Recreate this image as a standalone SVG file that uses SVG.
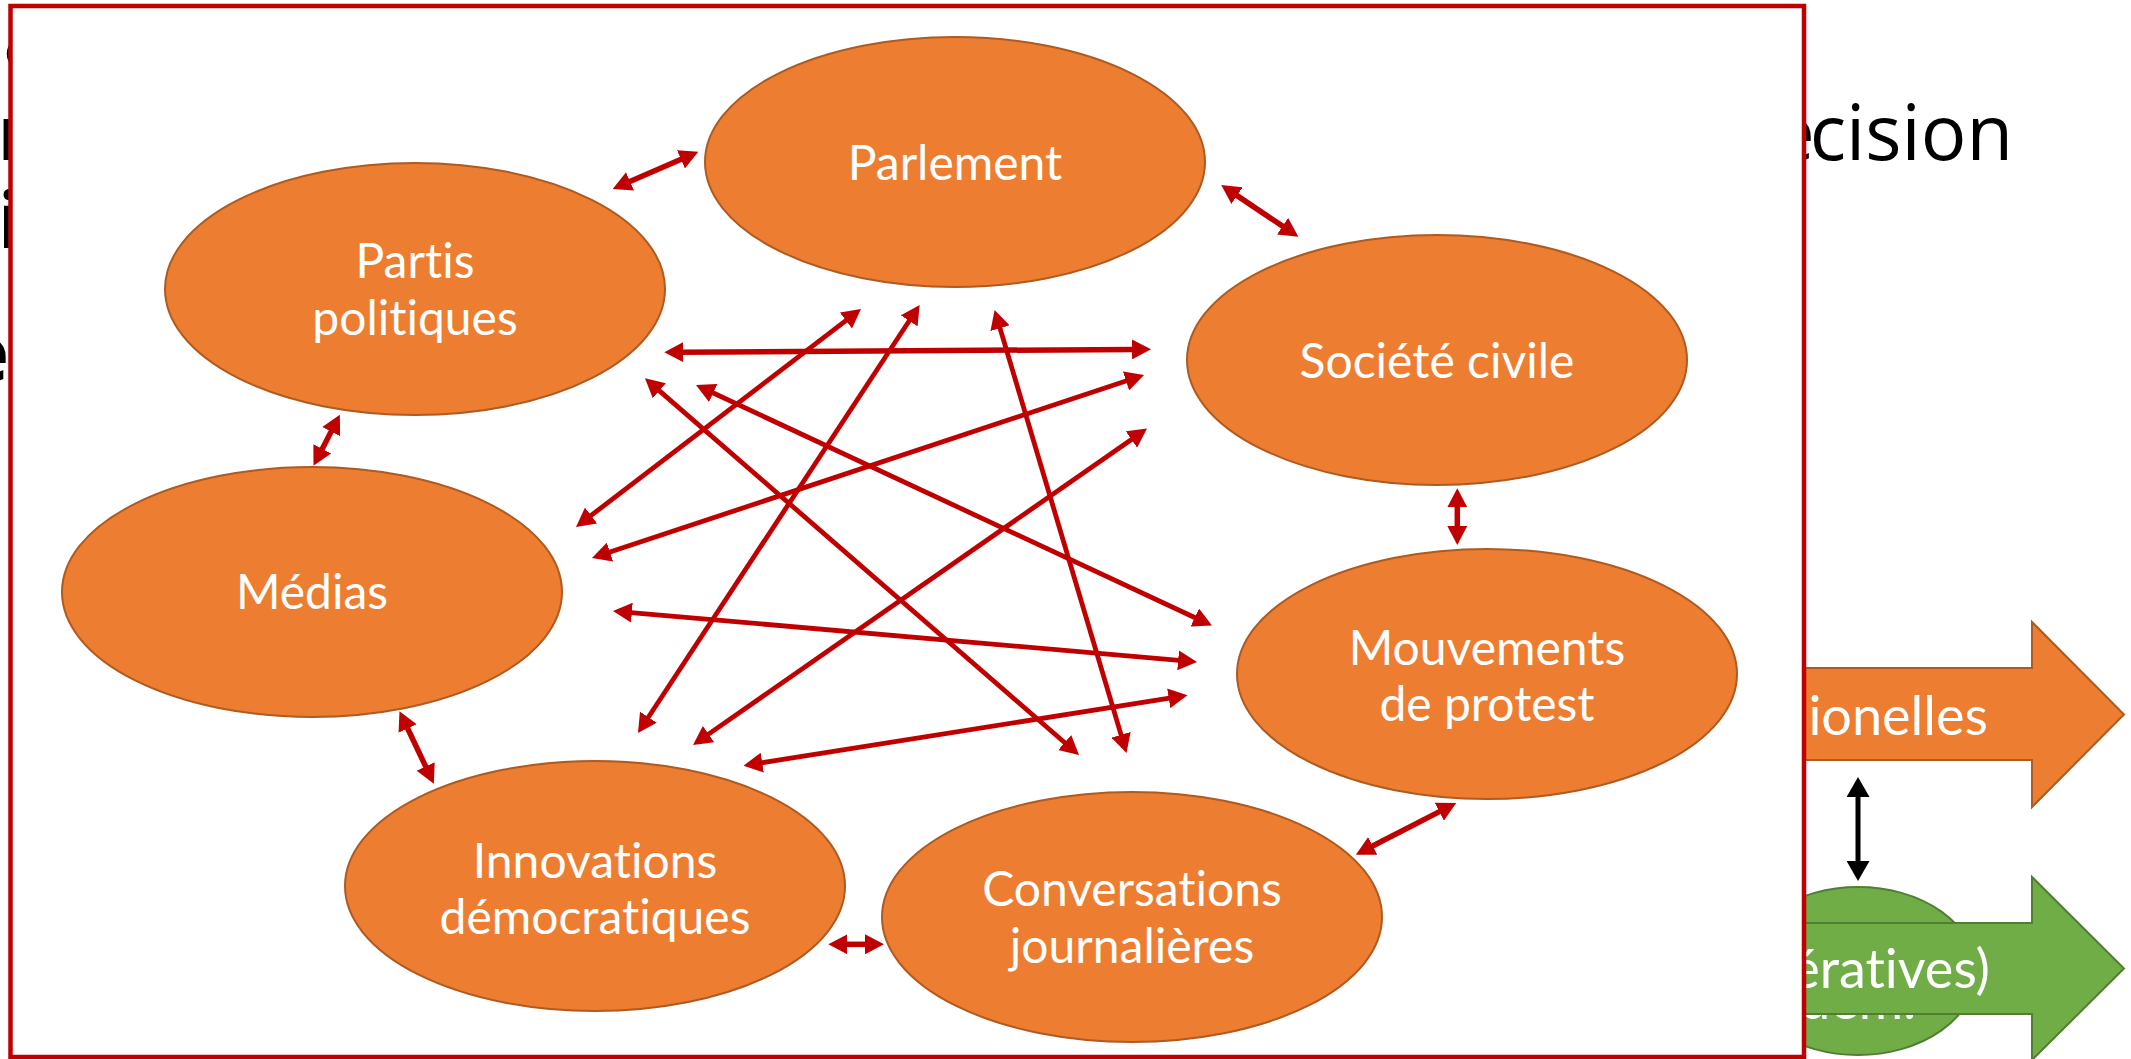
<svg xmlns="http://www.w3.org/2000/svg" width="2131" height="1059" viewBox="0 0 2131 1059">
<style>
.bg{font-family:"Open Sans","Noto Sans",sans-serif;fill:#000}
.node ellipse{fill:#ED7D31;stroke:#AE5A21;stroke-width:2}
.lbl{font-family:Lato,"Liberation Sans",sans-serif;font-size:48px;fill:#fff;text-anchor:middle;font-variant-ligatures:none;font-feature-settings:"liga" 0,"clig" 0}
.wl{font-family:Lato,"Liberation Sans",sans-serif;font-size:54px;fill:#fff;font-variant-ligatures:none;font-feature-settings:"liga" 0}
.c{stroke:#C00000;fill:none;marker-start:url(#ah);marker-end:url(#ah)}
.s{stroke-width:5.5}
.l{stroke-width:4.8}
</style>
<defs>
<marker id="ah" viewBox="0 0 19 20" markerWidth="19" markerHeight="20" refX="4" refY="10" orient="auto-start-reverse" markerUnits="userSpaceOnUse"><path d="M0,0 L19,10 L0,20 z" fill="#C00000"/></marker>
<marker id="bh" viewBox="0 0 20 23" markerWidth="20" markerHeight="23" refX="2" refY="11.5" orient="auto-start-reverse" markerUnits="userSpaceOnUse"><path d="M0,0 L20,11.5 L0,23 z" fill="#000"/></marker>
</defs>
<rect width="2131" height="1059" fill="#fff"/>
<g id="background">
<text class="bg" x="4" y="67" font-size="50">é</text>
<text class="bg" x="-3" y="160" font-size="77">r</text>
<text class="bg" x="-2" y="248" font-size="77" font-weight="bold">i</text>
<text class="bg" x="9" y="381" font-size="77" font-weight="bold" text-anchor="end">e</text>
<text class="bg" x="2013" y="160" font-size="76" text-anchor="end"><tspan>é</tspan><tspan dx="-5">cision</tspan></text>
<polygon points="1790,668 2032,668 2032,622 2124,714.5 2032,807 2032,760 1790,760" fill="#ED7D31" stroke="#AE5A21" stroke-width="2"/>
<text class="wl" x="1988" y="735" text-anchor="end">ionelles</text>
<ellipse cx="1858" cy="971" rx="118" ry="84" fill="#70AD47" stroke="#507E32" stroke-width="2"/>
<text class="wl" x="1858" y="1019" font-size="52" text-anchor="middle">dém.</text>
<polygon points="1790,923 2032,923 2032,877 2124,968.5 2032,1060 2032,1014 1790,1014" fill="#70AD47" stroke="#507E32" stroke-width="2"/>
<text class="wl" x="1990" y="988" text-anchor="end">ératives)</text>
<line x1="1858" y1="795" x2="1858" y2="863" stroke="#000" stroke-width="5" marker-start="url(#bh)" marker-end="url(#bh)"/>
</g>
<rect id="frame" x="10.5" y="6" width="1793.5" height="1051" fill="#fff" stroke="#C00000" stroke-width="4.5"/>
<g id="node-parlement" class="node"><ellipse cx="955" cy="162" rx="250" ry="125"/><text class="lbl" x="955" y="180">Parlement</text></g>
<g id="node-societe" class="node"><ellipse cx="1437" cy="360" rx="250" ry="125"/><text class="lbl" x="1437" y="378">Société civile</text></g>
<g id="node-mouvements" class="node"><ellipse cx="1487" cy="674" rx="250" ry="125"/><text class="lbl" x="1487" y="665">Mouvements</text><text class="lbl" x="1487" y="721">de protest</text></g>
<g id="node-conversations" class="node"><ellipse cx="1132" cy="917" rx="250" ry="125"/><text class="lbl" x="1132" y="906">Conversations</text><text class="lbl" x="1132" y="963">journalières</text></g>
<g id="node-innovations" class="node"><ellipse cx="595" cy="886" rx="250" ry="125"/><text class="lbl" x="595" y="878">Innovations</text><text class="lbl" x="595" y="934">démocratiques</text></g>
<g id="node-medias" class="node"><ellipse cx="312" cy="592" rx="250" ry="125"/><text class="lbl" x="312" y="609">Médias</text></g>
<g id="node-partis" class="node"><ellipse cx="415" cy="289" rx="250" ry="126"/><text class="lbl" x="415" y="278">Partis</text><text class="lbl" x="415" y="335">politiques</text></g>
<g id="connectors">
<line class="c s" x1="626.4" y1="183" x2="684.6" y2="157.7"/>
<line class="c s" x1="1233.7" y1="193.4" x2="1285.9" y2="228.4"/>
<line class="c s" x1="1457.3" y1="503.3" x2="1457.3" y2="530"/>
<line class="c s" x1="1442.9" y1="809.9" x2="1369.2" y2="847.8"/>
<line class="c s" x1="843.3" y1="944.3" x2="869" y2="944.3"/>
<line class="c s" x1="405.9" y1="724.8" x2="427.4" y2="770.1"/>
<line class="c s" x1="333" y1="428" x2="320.4" y2="452.4"/>
<line class="c l" x1="679.3" y1="352.2" x2="1136" y2="349.4" style="stroke-width:5.5"/>
<line class="c l" x1="587.9" y1="517.9" x2="849.1" y2="318.1"/>
<line class="c l" x1="606.2" y1="553.3" x2="1129.8" y2="379.7"/>
<line class="c l" x1="646.2" y1="720.5" x2="911.4" y2="317.5"/>
<line class="c l" x1="709.6" y1="391.3" x2="1198.4" y2="619.2"/>
<line class="c l" x1="656.3" y1="388.1" x2="1067.7" y2="745.2"/>
<line class="c l" x1="998.9" y1="324.4" x2="1122.2" y2="738.6"/>
<line class="c l" x1="705.3" y1="736.4" x2="1134.7" y2="437.2"/>
<line class="c l" x1="627.9" y1="612.3" x2="1182.1" y2="660.7"/>
<line class="c l" x1="758.3" y1="763.3" x2="1172.7" y2="697.7"/>
</g>
</svg>
